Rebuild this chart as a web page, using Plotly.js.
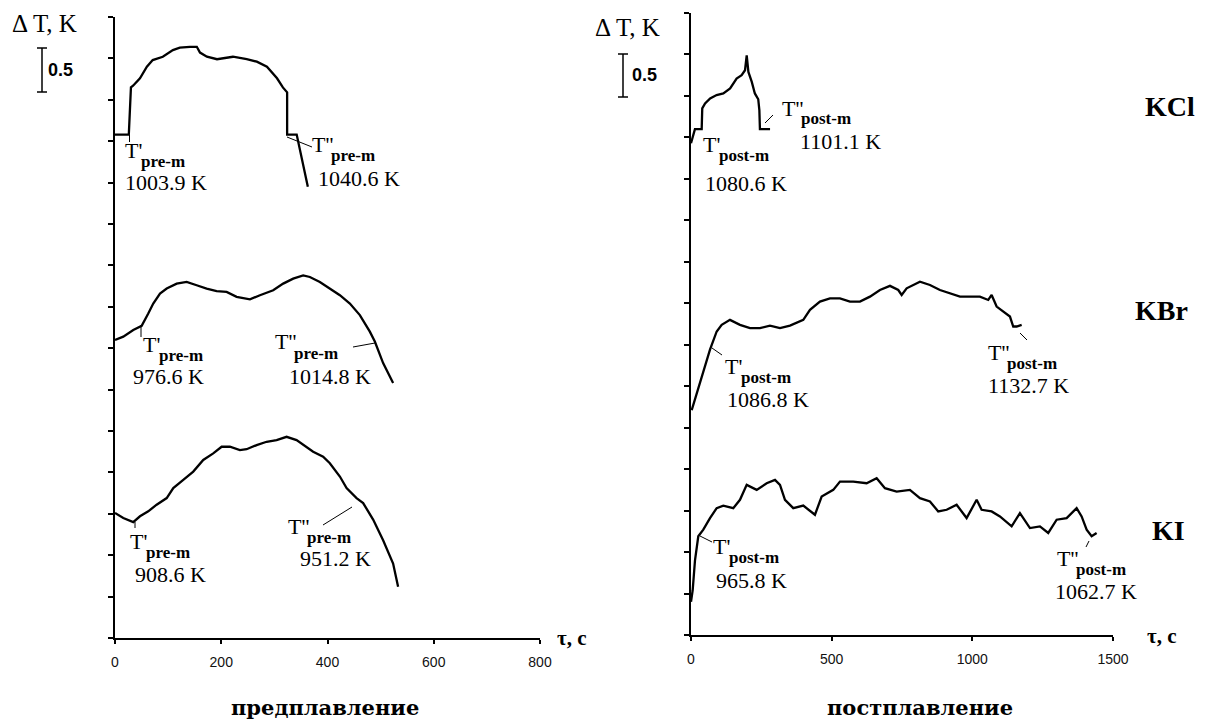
<!DOCTYPE html>
<html><head><meta charset="utf-8">
<script src="https://cdn.plot.ly/plotly-3.0.1.min.js"></script>
<style>html,body{margin:0;padding:0;background:#fff}#chart{width:1208px;height:722px}</style>
</head><body><div id="chart"></div>
<script>
// ---------- data (τ in s, ΔT in K, vertical offsets as in the figure) ----------
const KCl_pre_t  = [0, 26, 30, 34, 47, 60, 71, 90, 109, 122, 141, 154, 160, 173, 192, 222, 248, 267, 286, 305, 316, 324, 324, 342, 363];
const KCl_pre_dT = [6.08, 6.08, 6.65, 6.67, 6.76, 6.90, 6.98, 7.02, 7.10, 7.13, 7.14, 7.14, 7.07, 7.02, 6.99, 7.02, 6.99, 6.96, 6.90, 6.76, 6.65, 6.59, 6.08, 6.08, 5.45];

const KBr_pre_t  = [0, 15.6, 34.4, 50.2, 62.6, 72.0, 84.7, 97.3, 116.1, 134.9, 153.7, 172.5, 191.3, 210.1, 228.9, 254, 272.8, 297.8, 316.6, 335.4, 354.2, 366.8, 385.6, 404.4, 423.3, 442.1, 460.9, 479.7, 489.1, 504.7, 523.5];
const KBr_pre_dT = [3.60, 3.64, 3.72, 3.77, 3.92, 4.04, 4.16, 4.22, 4.28, 4.30, 4.26, 4.22, 4.19, 4.18, 4.12, 4.09, 4.14, 4.20, 4.28, 4.34, 4.38, 4.36, 4.30, 4.22, 4.14, 4.04, 3.90, 3.70, 3.58, 3.32, 3.08];

const KI_pre_t  = [0, 15.6, 34.4, 47, 62.6, 78.4, 97.3, 109.7, 128.5, 147.3, 166.1, 184.9, 200.7, 216.3, 235.1, 247.7, 266.6, 285.4, 304.2, 323, 341.8, 354.2, 373, 391.8, 404.4, 423.3, 435.9, 454.7, 467.1, 485.9, 504.7, 523.5, 532.9];
const KI_pre_dT = [1.51, 1.45, 1.40, 1.47, 1.53, 1.61, 1.69, 1.81, 1.91, 2.01, 2.15, 2.23, 2.31, 2.31, 2.27, 2.28, 2.33, 2.37, 2.39, 2.43, 2.39, 2.33, 2.25, 2.19, 2.11, 1.95, 1.81, 1.69, 1.63, 1.43, 1.18, 0.90, 0.62];

const KCl_post_t  = [0, 8, 14, 38, 40, 50, 68, 91, 115, 139, 162, 180, 192, 198, 204, 216, 227, 239, 243, 245, 281];
const KCl_post_dT = [5.93, 6.05, 6.10, 6.10, 6.35, 6.41, 6.47, 6.51, 6.53, 6.59, 6.71, 6.75, 6.81, 6.99, 6.79, 6.67, 6.53, 6.46, 6.33, 6.10, 6.10];

const KBr_post_t  = [2.5, 20.3, 38, 67.5, 91.3, 109.1, 138.6, 174.1, 209.7, 245.2, 280.7, 316.3, 351.8, 399.1, 422.9, 458.4, 493.9, 529.5, 565, 600.6, 636.1, 671.6, 707.2, 736.7, 748.8, 766.5, 813.8, 849.3, 884.9, 920.4, 956, 991.5, 1027, 1056.5, 1068.6, 1086.4, 1115.9, 1133.7, 1145.4, 1157.5, 1175.3];
const KBr_post_dT = [2.71, 2.91, 3.11, 3.44, 3.66, 3.74, 3.80, 3.74, 3.70, 3.70, 3.73, 3.70, 3.73, 3.80, 3.92, 4.02, 4.06, 4.06, 4.02, 4.02, 4.08, 4.16, 4.21, 4.16, 4.10, 4.18, 4.26, 4.22, 4.16, 4.12, 4.08, 4.08, 4.08, 4.04, 4.10, 3.96, 3.88, 3.84, 3.72, 3.72, 3.74];

const KI_post_t  = [0, 6, 14.2, 25.9, 43.7, 67.5, 91.3, 114.8, 150.3, 174.1, 198, 233.5, 269, 298.5, 316.3, 334, 363.5, 399.1, 440.6, 464.4, 505.7, 529.5, 576.8, 624.3, 659.9, 689.4, 731, 778.2, 813.8, 849.3, 878.8, 908.7, 944.2, 979.7, 1015.3, 1033, 1068.6, 1098.1, 1139.7, 1169.2, 1204.8, 1240.3, 1269.8, 1299.7, 1335.2, 1370.7, 1388.5, 1406.3, 1424, 1441.8];
const KI_post_dT = [0.40, 0.54, 0.90, 1.19, 1.27, 1.41, 1.53, 1.56, 1.53, 1.63, 1.81, 1.75, 1.83, 1.87, 1.81, 1.63, 1.53, 1.56, 1.45, 1.67, 1.75, 1.85, 1.85, 1.83, 1.89, 1.77, 1.73, 1.75, 1.65, 1.61, 1.49, 1.51, 1.57, 1.41, 1.63, 1.51, 1.49, 1.43, 1.31, 1.47, 1.29, 1.31, 1.23, 1.39, 1.41, 1.53, 1.43, 1.27, 1.19, 1.23];

const xTicksPre  = [0, 200, 400, 600, 800];
const xTicksPost = [0, 500, 1000, 1500];

const saltNames = ['KCl', 'KBr', 'KI'];
const panelTitles = ['предплавление', 'постплавление'];
const preLabels  = [["T'", 'pre-m', '1003.9 K'], ["T''", 'pre-m', '1040.6 K'],
                    ["T'", 'pre-m', '976.6 K'],  ["T''", 'pre-m', '1014.8 K'],
                    ["T'", 'pre-m', '908.6 K'],  ["T''", 'pre-m', '951.2 K']];
const postLabels = [["T'", 'post-m', '1080.6 K'], ["T''", 'post-m', '1101.1 K'],
                    ["T'", 'post-m', '1086.8 K'], ["T''", 'post-m', '1132.7 K'],
                    ["T'", 'post-m', '965.8 K'],  ["T''", 'post-m', '1062.7 K']];

// ---------- layout helpers ----------
const W = 1208, H = 722;
const PX = x => x / W, PY = y => 1 - y / H;
const SERIF = 'Liberation Serif, Times New Roman, serif';
const SANS = 'Liberation Sans, Arial, sans-serif';

const line = (t, v, xa, ya) => ({
  x: t, y: v, xaxis: xa, yaxis: ya, type: 'scatter', mode: 'lines',
  line: {color: '#000', width: 2.3}, hoverinfo: 'skip', showlegend: false
});

const data = [
  line(KCl_pre_t, KCl_pre_dT, 'x', 'y'),
  line(KBr_pre_t, KBr_pre_dT, 'x', 'y'),
  line(KI_pre_t, KI_pre_dT, 'x', 'y'),
  line(KCl_post_t, KCl_post_dT, 'x2', 'y2'),
  line(KBr_post_t, KBr_post_dT, 'x2', 'y2'),
  line(KI_post_t, KI_post_dT, 'x2', 'y2')
];

const annotations = [];
const addText = (text, x, y, size, opts = {}) => annotations.push(Object.assign({
  text, x: PX(x), y: PY(y), xref: 'paper', yref: 'paper', showarrow: false,
  xanchor: 'left', yanchor: 'middle', borderpad: 0, font: {family: SERIF, size, color: '#000'}
}, opts));

// label positions (pixel left, T-centre y, value left, value centre y)
const prePos = [[125, 149, 125, 182], [312, 143, 318, 179],
                [143, 343, 133, 376], [275, 341, 289, 376],
                [130, 540, 135, 574], [288, 525, 300, 558]];
const postPos = [[703, 143, 705, 183], [782, 107, 800, 141],
                 [725, 365, 727, 399], [988, 351, 988, 385],
                 [713, 545, 716, 580], [1057, 557, 1055, 591]];
function addLabels(labels, pos) {
  labels.forEach((l, i) => {
    const p = pos[i];
    addText(l[0], p[0] - 1, p[1] + 1, 22);
    addText('<b>' + l[1] + '</b>', p[0] + (l[0].length === 2 ? 15 : 18), p[1] + 12, 17);
    addText(l[2], p[2] - 1, p[3], 22);
  });
}
addLabels(preLabels, prePos);
addLabels(postLabels, postPos);

// axis titles / panel captions
addText('Δ T, K', 11, 23, 25);
addText('Δ T, K', 594, 28, 25);
addText('<b>τ, c</b>', 556, 638, 21);
addText('<b>τ, c</b>', 1146, 636, 21);
addText('<b>0.5</b>', 47, 70, 18, {font: {family: SANS, size: 18, color: '#000'}});
addText('<b>0.5</b>', 631, 75, 18, {font: {family: SANS, size: 18, color: '#000'}});
addText('<b>' + panelTitles[0] + '</b>', 325, 707, 21, {xanchor: 'center', font: {family: 'DejaVu Serif, serif', size: 21, color: '#000'}});
addText('<b>' + panelTitles[1] + '</b>', 920, 707, 21, {xanchor: 'center', font: {family: 'DejaVu Serif, serif', size: 21, color: '#000'}});
const saltPos = [[1145, 106], [1135, 310], [1152, 530]];
saltNames.forEach((s, i) => addText('<b>' + s + '</b>', saltPos[i][0] - 1, saltPos[i][1], 28));

// leader lines & scale bars (pixel coordinates)
const segs = [
  [129.5, 135, 129.5, 142], [287, 137, 312, 147],
  [141, 325, 141, 337], [353, 347, 375, 343],
  [135, 522, 135, 528], [323, 525, 352, 507],
  [765, 123, 773, 115],
  [712, 348, 722, 355], [1020, 333, 1027, 340],
  [700, 536, 712, 542], [1089, 541, 1086, 547]
];
const bars = [[42, 48, 92], [623, 54, 97]];
const shapes = segs.map(s => ({type: 'line', xref: 'paper', yref: 'paper',
  x0: PX(s[0]), y0: PY(s[1]), x1: PX(s[2]), y1: PY(s[3]), line: {color: '#000', width: 1}}));
bars.forEach(b => {
  shapes.push({type: 'line', xref: 'paper', yref: 'paper', x0: PX(b[0]), x1: PX(b[0]), y0: PY(b[1]), y1: PY(b[2]), line: {color: '#000', width: 1.5}});
  shapes.push({type: 'line', xref: 'paper', yref: 'paper', x0: PX(b[0] - 5), x1: PX(b[0] + 5), y0: PY(b[1]), y1: PY(b[1]), line: {color: '#000', width: 1.5}});
  shapes.push({type: 'line', xref: 'paper', yref: 'paper', x0: PX(b[0] - 5), x1: PX(b[0] + 5), y0: PY(b[2]), y1: PY(b[2]), line: {color: '#000', width: 1.5}});
});

const xax = (dom, rng, ticks, anchor) => ({
  domain: dom, range: rng, tickvals: ticks, ticktext: ticks.map(String), anchor,
  showline: true, linecolor: '#000', linewidth: 2, ticks: 'outside', ticklen: 4, tickwidth: 1.5,
  tickcolor: '#000', showgrid: false, zeroline: false, ticklabelstandoff: 6,
  tickfont: {family: SANS, size: 14, color: '#111'}, fixedrange: true
});
const yax = (dom, anchor) => ({
  domain: dom, range: [0, 7.5], dtick: 0.5, tick0: 0, anchor,
  showline: true, linecolor: '#000', linewidth: 2, ticks: 'outside', ticklen: 5, tickwidth: 1.5,
  tickcolor: '#000', showticklabels: false, showgrid: false, zeroline: false, fixedrange: true
});

const layout = {
  width: W, height: H, margin: {l: 0, r: 0, t: 0, b: 0},
  paper_bgcolor: '#fff', plot_bgcolor: 'rgba(0,0,0,0)', showlegend: false,
  xaxis:  xax([PX(115), PX(540)], [0, 800], xTicksPre, 'y'),
  yaxis:  yax([PY(638), PY(17)], 'x'),
  xaxis2: xax([PX(691), PX(1113)], [0, 1500], xTicksPost, 'y2'),
  yaxis2: yax([PY(635), PY(13)], 'x2'),
  annotations, shapes
};

Plotly.newPlot('chart', data, layout, {displayModeBar: false});
</script>
</body></html>
